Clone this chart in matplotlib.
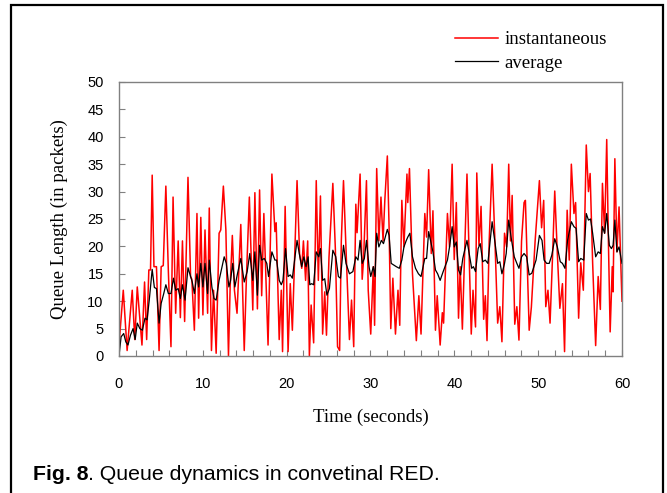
import matplotlib
matplotlib.use("Agg")
import matplotlib.pyplot as plt
from matplotlib.patches import Rectangle

# instantaneous queue length (red)
inst_t = [0.0, 0.51, 0.97, 1.58, 1.88, 2.18, 2.74, 3.05, 3.30, 3.56, 3.76, 3.96, 4.17, 4.47,
          4.78, 5.03, 5.28, 5.59, 5.89, 6.20, 6.45, 6.76, 7.06, 7.32, 7.57, 7.83, 8.23, 8.54,
          8.69, 8.99, 9.30, 9.50, 9.76, 10.01, 10.26, 10.57, 10.77, 11.03, 11.28, 11.59, 11.94,
          12.14, 12.45, 12.75, 13.06, 13.26, 13.52, 13.77, 14.08, 14.53, 14.94, 15.19, 15.55,
          15.96, 16.21, 16.51, 16.77, 17.02, 17.28, 17.78, 18.24, 18.60, 18.75, 19.11, 19.36,
          19.51, 19.82, 20.17, 20.43, 20.68, 21.24, 21.54, 21.80, 22.00, 22.26, 22.51, 22.71,
          22.92, 23.22, 23.53, 23.78, 24.03, 24.29, 24.54, 24.75, 25.05, 25.51, 25.81, 26.07,
          26.32, 26.52, 26.78, 27.08, 27.49, 27.74, 28.00, 28.25, 28.40, 28.76, 29.01, 29.17,
          29.52, 29.73, 30.03, 30.34, 30.49, 30.74, 31.00, 31.25, 31.50, 31.71, 32.01, 32.22,
          32.42, 32.67, 32.98, 33.28, 33.49, 33.74, 33.99, 34.35, 34.45, 34.65, 35.01, 35.47,
          35.77, 36.03, 36.48, 36.69, 36.94, 37.25, 37.45, 37.75, 37.96, 38.31, 38.57, 38.72,
          39.18, 39.43, 39.74, 39.99, 40.24, 40.50, 40.70, 40.96, 41.51, 41.72, 42.02, 42.23,
          42.53, 42.68, 42.94, 43.19, 43.50, 43.70, 43.90, 44.16, 44.51, 44.87, 45.17, 45.43,
          45.68, 45.99, 46.24, 46.49, 46.70, 46.90, 47.21, 47.46, 47.71, 48.02, 48.32, 48.48,
          48.93, 49.19, 49.64, 50.15, 50.41, 50.66, 50.91, 51.17, 51.42, 51.73, 51.98, 52.29,
          52.59, 52.90, 53.15, 53.46, 53.71, 53.96, 54.27, 54.47, 54.83, 55.08, 55.39, 55.74,
          56.00, 56.20, 56.50, 56.86, 57.16, 57.42, 57.67, 57.93, 58.18, 58.38, 58.59, 58.84,
          58.94, 59.15, 59.40, 59.65, 60.0]
inst_q = [2, 12, 1, 12, 3, 12.6, 2, 13.5, 3, 15.7, 15.7, 33, 16.3, 16.3,
          1, 16.3, 16.5, 31, 15.4, 1.7, 29, 7.8, 21, 7, 21, 6.3, 32.6, 14.5,
          14, 4.7, 26, 6.9, 25.3, 7.5, 23, 7.8, 27, 1, 12, 0.5, 22.4,
          23, 31, 23, 0, 12.6, 22, 12, 7.8, 24, 1, 13.8, 29,
          8.4, 29.8, 8.6, 30.3, 11, 26, 2, 33.2, 22.7, 24.3, 3, 12,
          0.8, 27.3, 0.8, 13.2, 4.7, 32, 18.7, 16, 21, 13.8, 21, 0,
          9.3, 2.4, 32, 13.8, 29.2, 4, 11.7, 3.8, 18, 31.5, 19.5, 1.7,
          1, 21, 32, 19.5, 3, 10.2, 1.7, 27.7, 22.5, 33.2, 14, 17.5,
          32, 12, 4, 16.3, 5.6, 34.2, 21, 29, 21, 28.4, 36.5, 23.4,
          5, 14.2, 4, 12, 5.6, 28.4, 19.9, 33.2, 28, 34.2, 15, 2.8,
          11, 4, 26, 21.7, 34, 18.7, 26.5, 4.7, 11, 2, 7.9, 6,
          26, 19.9, 35, 17.6, 28, 6.9, 16.3, 4.9, 33.2, 21, 4, 12,
          5.3, 33.4, 20.2, 27.3, 6.7, 11, 2.8, 21, 35, 19.9, 6, 9,
          2.6, 22.4, 19.9, 35, 21, 29.3, 5.8, 9, 2.9, 21, 28, 28.4,
          4.7, 8.9, 21, 32, 23.4, 28.4, 9, 12, 6, 18.7, 30.1, 18.7,
          8.7, 13.2, 0.8, 26.6, 17.5, 35, 26, 28, 6.9, 17, 12, 38.5,
          30, 33.3, 17, 1.9, 14.5, 8.5, 31.5, 22.4, 39.5, 21, 4.4, 16.3,
          11.7, 36, 19, 27.2, 10]

# average queue length (black)
avg_t = [0.0, 0.25, 0.56, 0.81, 1.07, 1.37, 1.68, 1.93, 2.18, 2.49, 2.79, 3.10, 3.35, 3.61,
         3.96, 4.22, 4.47, 4.78, 5.03, 5.34, 5.59, 5.89, 6.20, 6.50, 6.76, 7.06, 7.32, 7.57,
         7.88, 8.23, 8.54, 8.74, 8.99, 9.30, 9.50, 9.76, 10.01, 10.26, 10.57, 10.77, 11.08,
         11.33, 11.59, 11.94, 12.25, 12.55, 12.80, 13.11, 13.31, 13.57, 13.82, 14.13, 14.53,
         14.94, 15.29, 15.60, 15.96, 16.21, 16.51, 16.77, 17.02, 17.33, 17.63, 17.84, 18.24,
         18.60, 18.80, 19.11, 19.36, 19.56, 19.87, 20.17, 20.43, 20.68, 21.24, 21.54, 21.80,
         22.05, 22.31, 22.56, 22.76, 22.97, 23.22, 23.53, 23.83, 24.03, 24.29, 24.54, 24.80,
         25.10, 25.51, 25.86, 26.17, 26.42, 26.78, 27.08, 27.49, 27.90, 28.25, 28.51, 28.76,
         29.01, 29.27, 29.52, 29.83, 30.03, 30.34, 30.54, 30.74, 31.00, 31.30, 31.55, 32.01,
         32.22, 32.47, 32.77, 33.08, 33.44, 33.74, 33.99, 34.25, 34.45, 34.70, 35.01, 35.37,
         35.72, 36.03, 36.48, 36.69, 36.94, 37.25, 37.45, 37.75, 38.01, 38.31, 38.67, 39.18,
         39.43, 39.74, 39.99, 40.24, 40.50, 40.75, 41.01, 41.51, 41.77, 42.07, 42.28, 42.53,
         42.84, 43.09, 43.39, 43.70, 44.00, 44.51, 44.87, 45.17, 45.43, 45.68, 45.99, 46.19,
         46.49, 46.80, 47.15, 47.46, 47.71, 48.02, 48.32, 48.63, 48.93, 49.24, 49.75, 50.15,
         50.46, 50.71, 51.02, 51.32, 51.63, 51.98, 52.29, 52.64, 52.90, 53.20, 53.51, 53.96,
         54.27, 54.52, 54.83, 55.08, 55.44, 55.74, 56.00, 56.25, 56.50, 56.86, 57.16, 57.42,
         57.67, 57.93, 58.18, 58.49, 58.74, 58.94, 59.15, 59.40, 59.65, 60.0]
avg_q = [0, 3.5, 4.1, 2.6, 2, 3.8, 5, 3, 6, 5, 4.7, 6.9, 6.6, 10.2,
         15.8, 12.5, 12.3, 6, 9.6, 11.4, 13, 11.4, 11.4, 14.2, 12, 12.3, 10.5, 13,
         10.2, 16.1, 14.5, 13.5, 11.4, 15, 12.6, 16.9, 12.6, 16.9, 11.4, 17.5, 12.6,
         10.5, 10.2, 13.8, 16, 18.1, 16.9, 12.6, 13.8, 16.9, 12.6, 15, 17.8,
         13.5, 15.4, 18.7, 13.8, 19, 11.1, 20.2, 17.5, 17.8, 16.9, 14.5, 19,
         17.5, 17.5, 13.8, 13, 13.8, 19.6, 14.5, 14.8, 14.2, 21.1, 18.4, 16.3,
         18.1, 16.3, 18.1, 13, 13.2, 13, 19, 18.1, 19.6, 13.8, 14.1, 11.1,
         12.3, 19.3, 18.1, 14.5, 14.2, 20.2, 16.9, 15, 15.4, 18.1, 17.5, 21.1,
         16.9, 17.8, 21.1, 16.3, 14.5, 16.3, 14.5, 22.4, 19.9, 21.1, 20.5, 23.1,
         22, 16.9, 16.6, 16.3, 16, 17.5, 19.9, 21, 21.7, 22.4, 18.1, 16,
         15, 14.5, 17.8, 17.8, 22.7, 20.5, 19, 15.7, 15, 13.8, 15.4, 17.5,
         19.9, 23.6, 19.9, 20.8, 15.7, 14.8, 17.8, 21.1, 18.7, 16, 16.3, 15.4,
         19.6, 20.5, 17.2, 17.5, 16.9, 24.5, 20.5, 16.9, 17.2, 15, 16.9, 18.7,
         24.8, 21.4, 18.1, 16.9, 16, 18.1, 18.7, 18.1, 14.8, 15.1, 17.5, 22,
         21.1, 17.5, 16.9, 16.9, 18.4, 21.4, 19.9, 17.2, 16.9, 16, 21.1, 24.5,
         23.6, 23.3, 17.2, 17.8, 17.5, 26, 24.8, 25, 22.4, 18.1, 19, 18.7,
         23.6, 22.4, 26, 20.2, 19.6, 20.2, 24.8, 19, 19.9, 16.9]

x_ticks = [0, 10, 20, 30, 40, 50, 60]
y_ticks = [0, 5, 10, 15, 20, 25, 30, 35, 40, 45, 50]

serif = "Liberation Serif"
sans = "Liberation Sans"

fig = plt.figure(figsize=(6.67, 4.93), dpi=100)
ax = fig.add_axes([0.1784, 0.2779, 0.7541, 0.5558])

ax.plot(inst_t, inst_q, color="#ff0000", lw=1.1, label="instantaneous")
ax.plot(avg_t, avg_q, color="black", lw=0.9, label="average")

ax.set_xlim(0, 60)
ax.set_ylim(0, 50)
ax.set_xticks(x_ticks)
ax.set_xticks(range(0, 61, 2), minor=True)
ax.set_yticks(y_ticks)
ax.tick_params(axis="x", which="both", direction="in", length=4, width=0.8,
               color="#808080", pad=15)
ax.tick_params(axis="y", which="major", direction="in", length=4, width=0.8,
               color="#808080", pad=11)
ax.tick_params(axis="y", which="minor", length=0)
for lab in ax.get_xticklabels() + ax.get_yticklabels():
    lab.set_fontfamily(sans)
    lab.set_fontsize(10.5)

for s in ax.spines.values():
    s.set_color("#808080")
    s.set_linewidth(1.0)

ax.set_xlabel("Time (seconds)", fontfamily=serif, fontsize=13.5, labelpad=13)
ax.set_ylabel("Queue Length (in packets)", fontfamily=serif, fontsize=13.5, labelpad=14)

fig.legend(loc="center left", bbox_to_anchor=(455 / 667, 1 - 51.5 / 493),
           frameon=False, prop={"family": serif, "size": 13.5},
           handlelength=2.3, handletextpad=0.35, labelspacing=0.35,
           borderpad=0, borderaxespad=0)

# caption: bold figure number, then plain text
t1 = fig.text(33 / 667, 1 - 475 / 493, "Fig. 8", fontfamily=sans, fontsize=15.3,
              fontweight="bold", va="center", ha="left")
ax.annotate(". Queue dynamics in convetinal RED.", xy=(1, 0), xycoords=t1,
            va="bottom", ha="left", fontfamily=sans, fontsize=15.3,
            annotation_clip=False)

# outer frame
fig.patches.append(Rectangle((11 / 667, -0.05), (663 - 11) / 667, 1.05 - 5 / 493,
                             transform=fig.transFigure, fill=False,
                             edgecolor="black", lw=1.6))

fig.savefig("out.png", dpi=100)
